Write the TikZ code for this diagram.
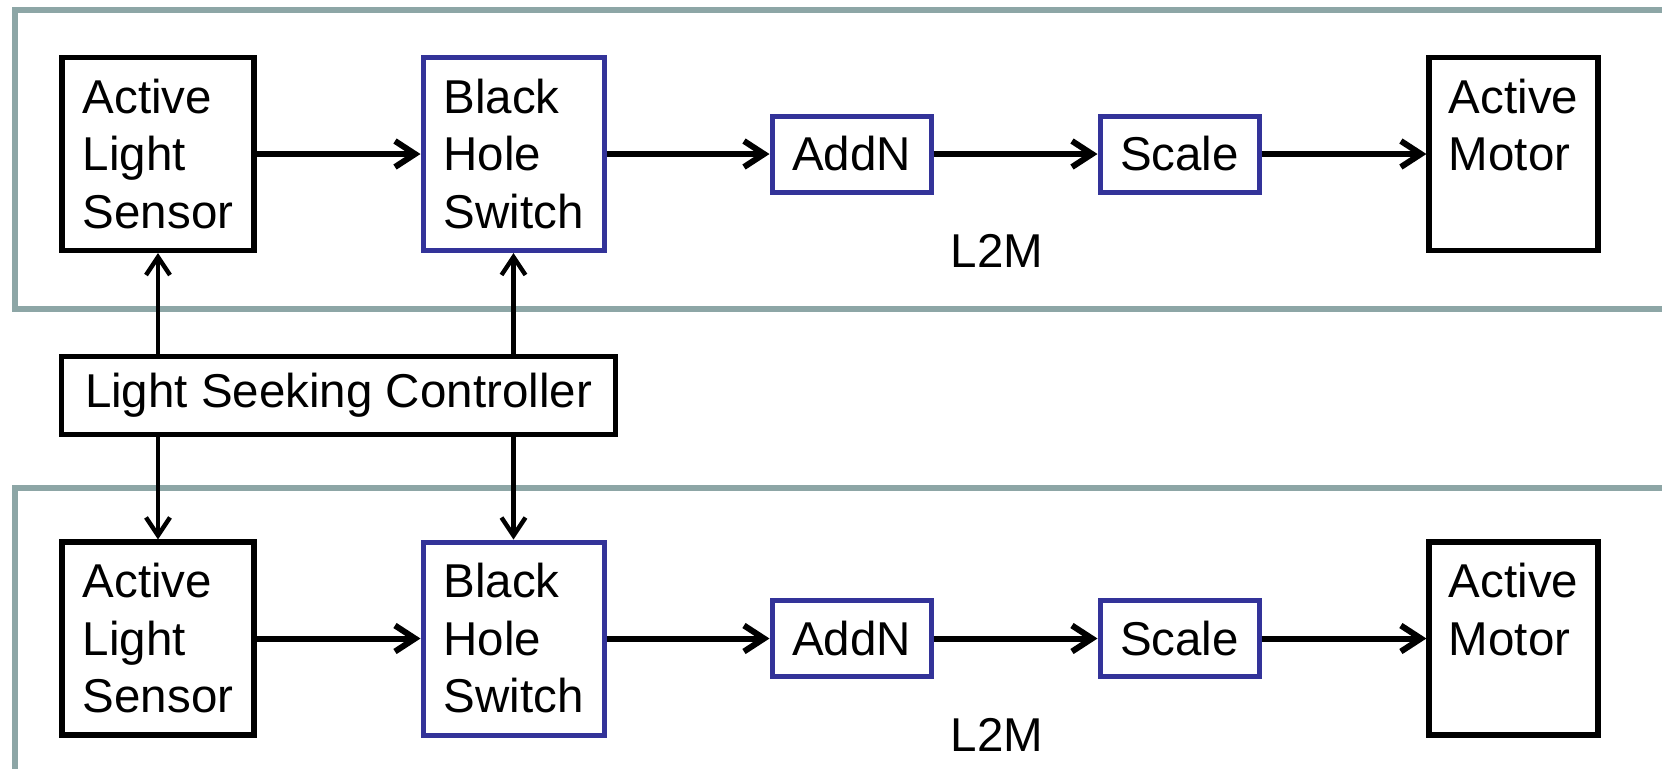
\documentclass[tikz,border=0pt]{standalone}
\usepackage{fontspec}
\setmainfont{Liberation Sans}
\usetikzlibrary{arrows.meta}
\definecolor{lanegray}{RGB}{141,166,166}
\definecolor{blockblue}{RGB}{51,51,153}

\begin{document}
\begin{tikzpicture}[x=0.5pt,y=-0.5pt,
  every node/.style={font=\fontsize{23.75}{28.75}\selectfont},
  blk/.style={draw=black, line width=2.6pt, rectangle, inner sep=0pt, align=left},
  blu/.style={blk, draw=blockblue, line width=2.5pt},
  tall/.style={minimum height=96.5pt},
  flow/.style={line width=3pt, -{Straight Barb[length=10pt,width=13pt]}},
  ctl/.style={line width=2.2pt, -{Straight Barb[length=9pt,width=12pt]}},
  lane/.style={draw=lanegray, line width=3pt}]

\useasboundingbox (0,0) rectangle (1662,768);
\clip (0,0) rectangle (1662,768);

% two L2M lanes, open to the right (and the lower one to the bottom)
\draw[lane] (15,10) rectangle (1720,309);
\draw[lane] (15,488) rectangle (1720,820);

% upper lane
\node[blk, tall, minimum width=96pt]   (als1) at (158,154)    {Active\\Light\\Sensor};
\node[blu, tall, minimum width=90.5pt] (bhs1) at (513.5,154)  {Black\\Hole\\Switch};
\node[blu, minimum width=79.5pt, minimum height=38pt] (add1) at (851.5,154) {AddN};
\node[blu, minimum width=79.5pt, minimum height=38pt] (scl1) at (1179.5,154) {Scale};
\node[blk, tall, minimum width=84.5pt] (mot1) at (1513.5,154) {Active\\Motor\\\vphantom{S}};
\node (l2m1) at (997,250.5) {L2M};

% lower lane
\node[blk, tall, minimum width=96pt]   (als2) at (158,638.5)    {Active\\Light\\Sensor};
\node[blu, tall, minimum width=90.5pt] (bhs2) at (513.5,638.5)  {Black\\Hole\\Switch};
\node[blu, minimum width=79.5pt, minimum height=38pt] (add2) at (851.5,638.5) {AddN};
\node[blu, minimum width=79.5pt, minimum height=38pt] (scl2) at (1179.5,638.5) {Scale};
\node[blk, tall, minimum width=84.5pt] (mot2) at (1513.5,638.5) {Active\\Motor\\\vphantom{S}};
\node (l2m2) at (997,734.5) {L2M};

% controller between the lanes
\node[blk, minimum width=277pt, minimum height=39pt] (lsc) at (338.5,395.5) {Light Seeking Controller};

% data flow inside each lane
\foreach \r in {1,2}{
  \draw[flow] (als\r) -- (bhs\r);
  \draw[flow] (bhs\r) -- (add\r);
  \draw[flow] (add\r) -- (scl\r);
  \draw[flow] (scl\r) -- (mot\r);
}

% controller links
\draw[ctl] (lsc.north -| als1) -- (als1.south);
\draw[ctl] (lsc.north -| bhs1) -- (bhs1.south);
\draw[ctl] (lsc.south -| als2) -- (als2.north);
\draw[ctl] (lsc.south -| bhs2) -- (bhs2.north);
\end{tikzpicture}
\end{document}
